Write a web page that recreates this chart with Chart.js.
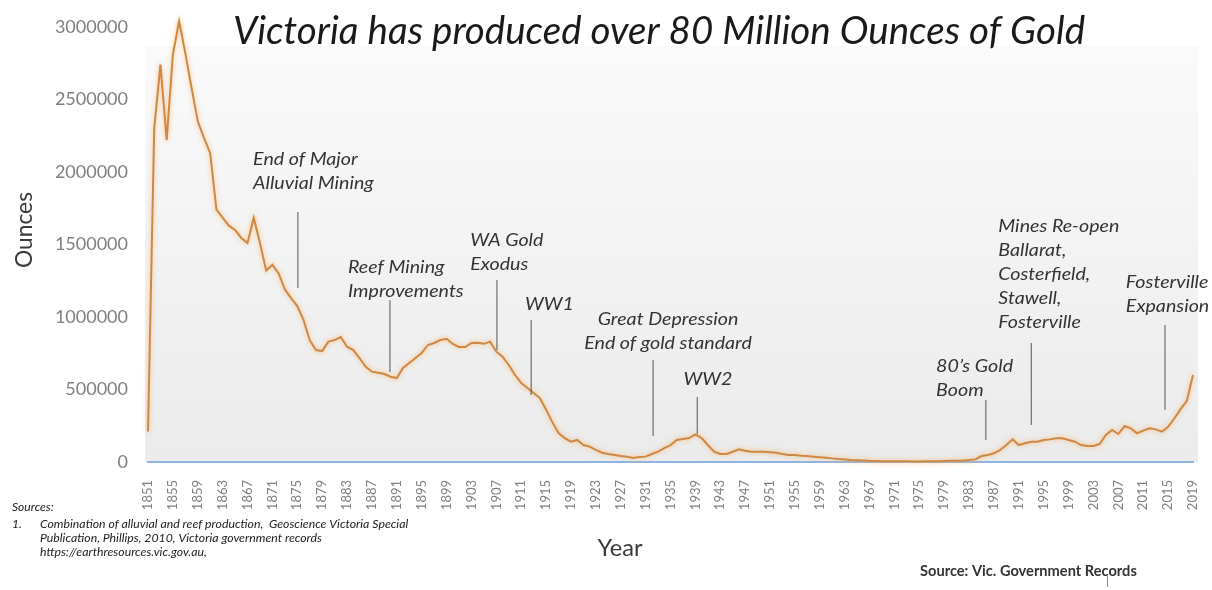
<!DOCTYPE html>
<html><head><meta charset="utf-8">
<script src="https://cdn.jsdelivr.net/npm/chart.js@4.4.1/dist/chart.umd.min.js"></script>
<style>html,body{margin:0;padding:0;background:#fff;}#wrap{width:1212px;height:590px;position:relative;}</style>
</head><body><div id="wrap"><canvas id="c" width="1212" height="590"></canvas></div>
<script>
// Categories: every year 1851..2019
const years = Array.from({length: 169}, (_, i) => String(1851 + i));
// Gold production (ounces), by decade
const ounces = [
  210000, 2300000, 2740000, 2220000, 2810000, 3040000, 2820000, 2580000, 2350000, 2235000, // 1851-1860
  2130000, 1740000, 1685000, 1630000, 1600000, 1545000, 1510000, 1685000, 1510000, 1320000, // 1861-1870
  1360000, 1300000, 1190000, 1130000, 1075000, 980000, 840000, 772000, 765000, 830000,       // 1871-1880
  841000, 862000, 795000, 772000, 717000, 657000, 623000, 616000, 607000, 588000,            // 1881-1890
  579000, 648000, 683000, 717000, 752000, 807000, 821000, 841000, 850000, 814000,            // 1891-1900
  793000, 793000, 821000, 823000, 815000, 830000, 761000, 726000, 669000, 600000,            // 1901-1910
  545000, 510000, 476000, 441000, 360000, 275000, 200000, 165000, 140000, 152000,            // 1911-1920
  117000, 106000, 83000, 64000, 55000, 48000, 41000, 37000, 28000, 34000,                    // 1921-1930
  37000, 55000, 71000, 96000, 117000, 152000, 159000, 165000, 190000, 165000,                // 1931-1940
  117000, 71000, 55000, 55000, 71000, 87000, 78000, 71000, 71000, 71000,                     // 1941-1950
  68000, 64000, 55000, 48000, 48000, 43000, 41000, 37000, 32000, 30000,                      // 1951-1960
  25000, 21000, 18000, 14000, 12000, 10000, 8000, 7000, 6000, 6000,                          // 1961-1970
  5000, 5000, 5000, 4000, 4000, 5000, 5000, 6000, 7000, 8000,                                // 1971-1980
  9000, 11000, 13000, 18000, 41000, 48000, 60000, 83000, 117000, 156000,                     // 1981-1990
  117000, 129000, 140000, 140000, 152000, 156000, 163000, 163000, 152000, 140000,            // 1991-2000
  117000, 110000, 110000, 124000, 186000, 221000, 193000, 248000, 232000, 198000,            // 2001-2010
  216000, 232000, 225000, 209000, 243000, 300000, 365000, 420000, 600000                     // 2011-2019
];
const yTicks = [0, 500000, 1000000, 1500000, 2000000, 2500000, 3000000];

const titleText = 'Victoria has produced over 80 Million Ounces of Gold';
const yTitle = 'Ounces';
const xTitle = 'Year';
const sourcesLines = [
  'Combination of alluvial and reef production,  Geoscience Victoria Special',
  'Publication, Phillips, 2010, Victoria government records',
  'https://earthresources.vic.gov.au,'
];
const sourceRight = 'Source: Vic. Government Records';

// Event annotations (positions in data space: year, ounces)
const annotations = [
  {lines: ['End of Major', 'Alluvial Mining'], textYear: 1867.9, textValue: 2083000, align: 'left', lineYear: 1875.1, lineTop: 1724000, lineBottom: 1200000},
  {lines: ['Reef Mining', 'Improvements'], textYear: 1883.15, textValue: 1338000, align: 'left', lineYear: 1889.9, lineTop: 1117000, lineBottom: 621000},
  {lines: ['WA Gold', 'Exodus'], textYear: 1902.8, textValue: 1524000, align: 'left', lineYear: 1907.1, lineTop: 1255000, lineBottom: 772000},
  {lines: ['WW1'], textYear: 1911.6, textValue: 1083000, align: 'left', lineYear: 1912.6, lineTop: 979000, lineBottom: 462000},
  {lines: ['Great Depression', 'End of gold standard'], textYear: 1934.6, textValue: 979000, align: 'center', lineYear: 1932.2, lineTop: 703000, lineBottom: 179000},
  {lines: ['WW2'], textYear: 1941, textValue: 566000, align: 'center', lineYear: 1939.3, lineTop: 448000, lineBottom: 193000},
  {lines: ["80\u2019s Gold", 'Boom'], textYear: 1977.7, textValue: 655000, align: 'left', lineYear: 1985.7, lineTop: 428000, lineBottom: 152000},
  {lines: ['Mines Re-open', 'Ballarat,', 'Costerfield,', 'Stawell,', 'Fosterville'], textYear: 1987.7, textValue: 1621000, align: 'left', lineYear: 1993, lineTop: 821000, lineBottom: 255000},
  {lines: ['Fosterville', 'Expansion'], textYear: 2008.2, textValue: 1235000, align: 'left', lineYear: 2014.5, lineTop: 945000, lineBottom: 359000}
];

function fitFont(ctx, text, style, family, targetWidth, base) {
  ctx.font = style + ' ' + base + 'px ' + family;
  const w = ctx.measureText(text).width;
  const size = base * targetWidth / w;
  return style + ' ' + size.toFixed(2) + 'px ' + family;
}

// draw text stretched horizontally (the reference is a wide-set font)
function wideText(ctx, text, x, y, sx, align) {
  ctx.save();
  ctx.translate(x, y);
  ctx.scale(sx, 1);
  ctx.textAlign = align;
  ctx.fillText(text, 0, 0);
  ctx.restore();
}

const bgPlugin = {
  id: 'bg',
  beforeDraw(chart) {
    const {ctx, chartArea: a} = chart;
    ctx.save();
    ctx.fillStyle = '#ffffff';
    ctx.fillRect(0, 0, chart.width, chart.height);
    const g = ctx.createLinearGradient(0, 46, 0, a.bottom);
    g.addColorStop(0, '#fafafa');
    g.addColorStop(1, '#ebebeb');
    ctx.fillStyle = g;
    ctx.fillRect(a.left - 3, 46, a.right - a.left + 8, a.bottom - 46);
    ctx.restore();
  }
};

const glowPlugin = {
  id: 'glow',
  beforeDatasetDraw(chart) {
    const ctx = chart.ctx;
    ctx.save();
    ctx.shadowColor = 'rgba(247,175,100,0.85)';
    ctx.shadowBlur = 5;
  },
  afterDatasetDraw(chart) {
    chart.ctx.restore();
  }
};

const textPlugin = {
  id: 'texts',
  afterDraw(chart) {
    const {ctx, scales: {x, y}} = chart;
    const xPix = yr => x.getPixelForValue(yr - 1851);
    ctx.save();
    // Title
    ctx.fillStyle = '#1a1a1a';
    ctx.font = fitFont(ctx, titleText, 'italic', 'Lato', 852, 34);
    ctx.textBaseline = 'middle';
    ctx.textAlign = 'left';
    ctx.fillText(titleText, 233, 32);
    // Y title
    ctx.save();
    ctx.translate(25, 230);
    ctx.rotate(-Math.PI / 2);
    ctx.fillStyle = '#3a3a3a';
    ctx.font = fitFont(ctx, yTitle, '', 'Lato', 76, 21);
    ctx.textAlign = 'center';
    ctx.fillText(yTitle, 0, 0);
    ctx.restore();
    // X title
    ctx.fillStyle = '#3a3a3a';
    ctx.font = fitFont(ctx, xTitle, '', 'Lato', 45, 21);
    ctx.textAlign = 'center';
    ctx.fillText(xTitle, 620, 548);
    // Annotations
    for (const an of annotations) {
      const lx = xPix(an.lineYear);
      ctx.strokeStyle = '#555';
      ctx.lineWidth = 1;
      ctx.beginPath();
      ctx.moveTo(lx, y.getPixelForValue(an.lineTop));
      ctx.lineTo(lx, y.getPixelForValue(an.lineBottom));
      ctx.stroke();
      ctx.fillStyle = '#333';
      ctx.font = 'italic 16.5px Lato';
      ctx.textBaseline = 'middle';
      const tx = xPix(an.textYear);
      const ty = y.getPixelForValue(an.textValue);
      an.lines.forEach((ln, i) => wideText(ctx, ln, tx, ty + i * 24, 1.19, an.align));
    }
    // Sources
    ctx.fillStyle = '#222';
    ctx.font = 'italic 10.5px Lato';
    wideText(ctx, 'Sources:', 12, 508, 1.15, 'left');
    wideText(ctx, '1.', 12, 525, 1.15, 'left');
    sourcesLines.forEach((ln, i) => wideText(ctx, ln, 40, 525 + i * 14, 1.17, 'left'));
    ctx.fillStyle = '#333';
    ctx.textAlign = 'left';
    ctx.font = fitFont(ctx, sourceRight, 'bold', 'Lato', 217, 11);
    ctx.fillText(sourceRight, 920, 571);
    ctx.strokeStyle = '#888';
    ctx.beginPath(); ctx.moveTo(1107.5, 576); ctx.lineTo(1107.5, 587); ctx.stroke();
    ctx.restore();
  }
};

new Chart(document.getElementById('c'), {
  type: 'line',
  data: {
    labels: years,
    datasets: [{
      data: ounces,
      borderColor: '#cf8843',
      borderWidth: 2,
      pointRadius: 0,
      tension: 0,
      fill: false,
      clip: false
    }]
  },
  options: {
    responsive: false,
    animation: false,
    layout: {padding: {top: 27, right: 19, left: 0, bottom: 0}},
    plugins: {legend: {display: false}, tooltip: {enabled: false}, title: {display: false}},
    scales: {
      x: {
        type: 'category',
        offset: false,
        grid: {display: false},
        border: {display: true, color: '#8fb4e0', width: 2},
        ticks: {
          autoSkip: false, maxRotation: 90, minRotation: 90,
          font: {family: 'Lato', size: 13}, color: '#808080', padding: 10,
          callback: (v, i) => (i % 4 === 0 ? years[i] : null)
        },
        afterFit: s => { s.height = 128; s.paddingLeft = 0; s.paddingRight = 0; }
      },
      y: {
        min: 0, max: 3000000,
        afterBuildTicks: s => { s.ticks = yTicks.map(v => ({value: v})); },
        grid: {display: false},
        border: {display: false},
        ticks: {font: {family: 'Lato', size: 18}, color: '#7f7f7f', padding: 12, callback: v => String(v)},
        afterFit: s => { s.width = 148; }
      }
    }
  },
  plugins: [bgPlugin, glowPlugin, textPlugin]
});
</script>
</body></html>
